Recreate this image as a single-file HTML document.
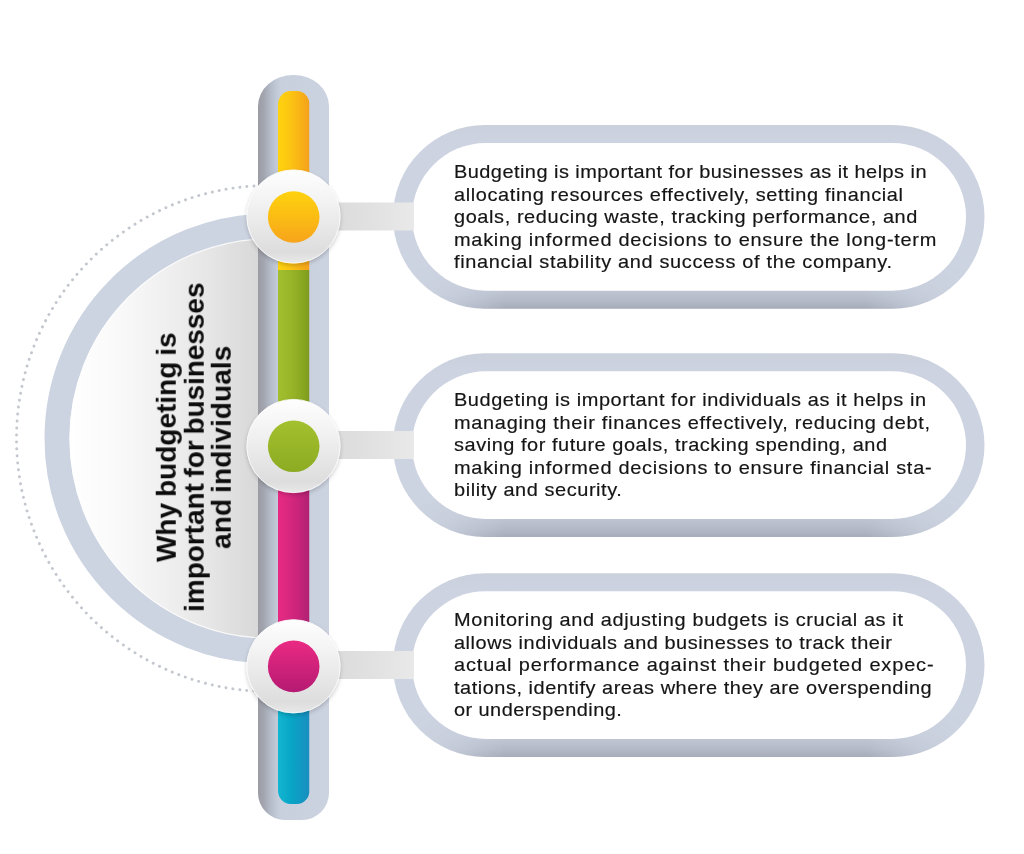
<!DOCTYPE html>
<html>
<head>
<meta charset="utf-8">
<title>Why budgeting is important</title>
<style>
  html,body{margin:0;padding:0;background:#ffffff;}
  body{width:1024px;height:854px;overflow:hidden;position:relative;font-family:"Liberation Sans",sans-serif;}
  svg{position:absolute;left:0;top:0;display:block;}
  .para{position:absolute;left:454.4px;width:520px;font-size:19.0px;line-height:22.5px;color:#151515;-webkit-text-stroke:0.18px #151515;white-space:nowrap;transform-origin:0 0;transform:scaleX(1.05);}
  .para span{display:block;}
  .para,.title{will-change:transform;}
  .title{position:absolute;left:23.8px;top:406.05px;width:340px;height:82.5px;transform-origin:50% 50%;transform:rotate(-90deg);
    font-weight:bold;font-size:28px;line-height:27.5px;word-spacing:-2px;text-align:center;color:#0c0c0c;white-space:nowrap;}
  .title span{display:block;}
</style>
</head>
<body>
<svg width="1024" height="854" viewBox="0 0 1024 854">
  <defs>
    <linearGradient id="gPillar" x1="0" y1="0" x2="1" y2="0">
      <stop offset="0" stop-color="#9b9ca5"/>
      <stop offset="0.08" stop-color="#a2a5af"/>
      <stop offset="0.17" stop-color="#b3bbc8"/>
      <stop offset="0.26" stop-color="#c2c9d6"/>
      <stop offset="0.32" stop-color="#c9d0dd"/>
      <stop offset="1" stop-color="#ccd3e0"/>
    </linearGradient>
    <linearGradient id="gBox" x1="0" y1="0" x2="0" y2="1">
      <stop offset="0" stop-color="#cad1dc"/>
      <stop offset="0.1" stop-color="#cdd3e1"/>
      <stop offset="1" stop-color="#cdd4e1"/>
    </linearGradient>
    <linearGradient id="gBoxDark" x1="0" y1="0" x2="0" y2="1">
      <stop offset="0.76" stop-color="#6e7080" stop-opacity="0"/>
      <stop offset="0.9" stop-color="#6e7080" stop-opacity="0.14"/>
      <stop offset="0.96" stop-color="#6e7080" stop-opacity="0.27"/>
      <stop offset="1" stop-color="#6e7080" stop-opacity="0.40"/>
    </linearGradient>
    <linearGradient id="gMaskH" gradientUnits="userSpaceOnUse" x1="393" y1="0" x2="984" y2="0">
      <stop offset="0.03" stop-color="#000000"/>
      <stop offset="0.10" stop-color="#555555"/>
      <stop offset="0.19" stop-color="#ffffff"/>
      <stop offset="0.80" stop-color="#ffffff"/>
      <stop offset="0.89" stop-color="#555555"/>
      <stop offset="0.97" stop-color="#000000"/>
    </linearGradient>
    <mask id="mH" maskUnits="userSpaceOnUse" x="0" y="0" width="1024" height="854"><rect x="0" y="0" width="1024" height="854" fill="url(#gMaskH)"/></mask>
    <linearGradient id="gDisc" gradientUnits="userSpaceOnUse" x1="69.5" y1="0" x2="258" y2="0">
      <stop offset="0" stop-color="#ffffff"/>
      <stop offset="0.3" stop-color="#f8f8f8"/>
      <stop offset="0.7" stop-color="#e8e8e8"/>
      <stop offset="1" stop-color="#d8d8d9"/>
    </linearGradient>
    <linearGradient id="gYellow" x1="0" y1="0" x2="1" y2="0">
      <stop offset="0" stop-color="#fed30e"/>
      <stop offset="0.4" stop-color="#fcc412"/>
      <stop offset="0.75" stop-color="#f8b017"/>
      <stop offset="1" stop-color="#f4a01c"/>
    </linearGradient>
    <linearGradient id="gGreen" x1="0" y1="0" x2="1" y2="0">
      <stop offset="0" stop-color="#a2bf2f"/>
      <stop offset="0.45" stop-color="#97b428"/>
      <stop offset="0.88" stop-color="#84a21e"/>
      <stop offset="1" stop-color="#7d9824"/>
    </linearGradient>
    <linearGradient id="gPink" x1="0" y1="0" x2="1" y2="0">
      <stop offset="0" stop-color="#e72a84"/>
      <stop offset="0.3" stop-color="#dc2880"/>
      <stop offset="0.62" stop-color="#ca247a"/>
      <stop offset="1" stop-color="#b02273"/>
    </linearGradient>
    <linearGradient id="gCyan" x1="0" y1="0" x2="1" y2="0">
      <stop offset="0" stop-color="#12b6d1"/>
      <stop offset="0.45" stop-color="#08a4c6"/>
      <stop offset="1" stop-color="#1a8dbf"/>
    </linearGradient>
    <linearGradient id="gConn" gradientUnits="userSpaceOnUse" x1="340" y1="0" x2="414" y2="0">
      <stop offset="0" stop-color="#dcdcdc"/>
      <stop offset="0.5" stop-color="#e2e2e2"/>
      <stop offset="1" stop-color="#e9e9e9"/>
    </linearGradient>
    <linearGradient id="gNode" x1="0" y1="0" x2="0" y2="1">
      <stop offset="0" stop-color="#fefefe"/>
      <stop offset="0.3" stop-color="#f4f4f4"/>
      <stop offset="0.88" stop-color="#dddddd"/>
      <stop offset="1" stop-color="#e8e8e8"/>
    </linearGradient>
    <linearGradient id="gDotY" x1="0" y1="0" x2="0" y2="1">
      <stop offset="0" stop-color="#fed20f"/>
      <stop offset="0.5" stop-color="#fbbc14"/>
      <stop offset="1" stop-color="#f7a41b"/>
    </linearGradient>
    <linearGradient id="gDotG" x1="0" y1="0" x2="0" y2="1">
      <stop offset="0" stop-color="#a3c02e"/>
      <stop offset="1" stop-color="#8dab22"/>
    </linearGradient>
    <linearGradient id="gDotP" x1="0" y1="0" x2="0" y2="1">
      <stop offset="0" stop-color="#ea2a83"/>
      <stop offset="1" stop-color="#b51a72"/>
    </linearGradient>
    <clipPath id="clipBar"><rect x="278" y="91" width="31.5" height="713" rx="12.5" ry="13.5"/></clipPath>
    <clipPath id="clipLeft"><rect x="0" y="0" width="293" height="854"/></clipPath>
    <filter id="fShadow" x="-20%" y="-20%" width="140%" height="140%">
      <feGaussianBlur in="SourceAlpha" stdDeviation="2.2"/>
      <feOffset dx="0" dy="1.5" result="b"/>
      <feComponentTransfer><feFuncA type="linear" slope="0.2"/></feComponentTransfer>
      <feMerge><feMergeNode/><feMergeNode in="SourceGraphic"/></feMerge>
    </filter>
  </defs>

  <!-- left half-disc group -->
  <g clip-path="url(#clipLeft)">
    <circle cx="269.5" cy="438.5" r="253" fill="none" stroke="#c3c7ce" stroke-width="2.9" stroke-linecap="round" stroke-dasharray="0.1 6.9"/>
    <circle cx="269.5" cy="438.5" r="212.5" fill="url(#gDisc)" stroke="#cdd4e1" stroke-width="25"/>
    <circle cx="269.5" cy="438.5" r="199.6" fill="none" stroke="#ffffff" stroke-opacity="0.75" stroke-width="1.2"/>
  </g>

  <!-- boxes -->
  <rect x="393" y="125" width="591.5" height="183.7" rx="91.85" ry="91.85" fill="url(#gBox)"/>
  <rect x="393" y="353.3" width="591.5" height="183.6" rx="91.8" ry="91.8" fill="url(#gBox)"/>
  <rect x="393" y="573.2" width="591.5" height="183.8" rx="91.9" ry="91.9" fill="url(#gBox)"/>
  <g mask="url(#mH)">
    <rect x="393" y="125" width="591.5" height="183.7" rx="91.85" ry="91.85" fill="url(#gBoxDark)"/>
    <rect x="393" y="353.3" width="591.5" height="183.6" rx="91.8" ry="91.8" fill="url(#gBoxDark)"/>
    <rect x="393" y="573.2" width="591.5" height="183.8" rx="91.9" ry="91.9" fill="url(#gBoxDark)"/>
  </g>
  <rect x="412" y="143" width="554" height="147.7" rx="73.85" ry="73.85" fill="#ffffff"/>
  <rect x="412" y="371.3" width="554" height="147.6" rx="73.8" ry="73.8" fill="#ffffff"/>
  <rect x="412" y="591.2" width="554" height="147.8" rx="73.9" ry="73.9" fill="#ffffff"/>

  <!-- connectors -->
  <rect x="325" y="202.5" width="89" height="28" fill="url(#gConn)"/>
  <rect x="325" y="431" width="89" height="28" fill="url(#gConn)"/>
  <rect x="325" y="651" width="89" height="28" fill="url(#gConn)"/>

  <!-- pillar -->
  <path d="M258,106 A35.5,31 0 0 1 293.5,75 A35.5,31 0 0 1 329,106 L329,793 A27,27 0 0 1 302,820 L285,820 A27,27 0 0 1 258,793 Z" fill="url(#gPillar)"/>
  <g clip-path="url(#clipBar)">
    <rect x="278" y="91" width="31.5" height="179" fill="url(#gYellow)"/>
    <rect x="278" y="270" width="31.5" height="176" fill="url(#gGreen)"/>
    <rect x="278" y="446" width="31.5" height="220" fill="url(#gPink)"/>
    <rect x="278" y="666" width="31.5" height="138" fill="url(#gCyan)"/>
  </g>

  <!-- nodes -->
  <g filter="url(#fShadow)">
    <circle cx="293.5" cy="216.5" r="46.6" fill="url(#gNode)" stroke="#fbfbfb" stroke-width="0.9"/>
    <circle cx="293.5" cy="446" r="46.6" fill="url(#gNode)" stroke="#fbfbfb" stroke-width="0.9"/>
    <circle cx="293.5" cy="666.3" r="46.6" fill="url(#gNode)" stroke="#fbfbfb" stroke-width="0.9"/>
  </g>
  <circle cx="293.7" cy="217" r="25.8" fill="url(#gDotY)"/>
  <circle cx="293.7" cy="446.3" r="25.8" fill="url(#gDotG)"/>
  <circle cx="293.7" cy="666.4" r="25.8" fill="url(#gDotP)"/>
</svg>

<div class="para" style="top:161.2px;">
  <span style="letter-spacing:0.437px">Budgeting is important for businesses as it helps in</span>
  <span style="letter-spacing:0.582px">allocating resources effectively, setting financial</span>
  <span style="letter-spacing:0.559px">goals, reducing waste, tracking performance, and</span>
  <span style="letter-spacing:0.681px">making informed decisions to ensure the long-term</span>
  <span style="letter-spacing:0.627px">financial stability and success of the company.</span>
</div>
<div class="para" style="top:388.7px;">
  <span style="letter-spacing:0.541px">Budgeting is important for individuals as it helps in</span>
  <span style="letter-spacing:0.652px">managing their finances effectively, reducing debt,</span>
  <span style="letter-spacing:0.515px">saving for future goals, tracking spending, and</span>
  <span style="letter-spacing:0.683px">making informed decisions to ensure financial sta-</span>
  <span style="letter-spacing:0.537px">bility and security.</span>
</div>
<div class="para" style="top:608.7px;">
  <span style="letter-spacing:0.591px">Monitoring and adjusting budgets is crucial as it</span>
  <span style="letter-spacing:0.494px">allows individuals and businesses to track their</span>
  <span style="letter-spacing:0.819px">actual performance against their budgeted expec-</span>
  <span style="letter-spacing:0.500px">tations, identify areas where they are overspending</span>
  <span style="letter-spacing:0.415px">or underspending.</span>
</div>

<div class="title"><span style="letter-spacing:0.02px">Why budgeting is</span><span style="letter-spacing:-0.05px">important for businesses</span><span style="letter-spacing:0.1px">and individuals</span></div>

</body>
</html>
